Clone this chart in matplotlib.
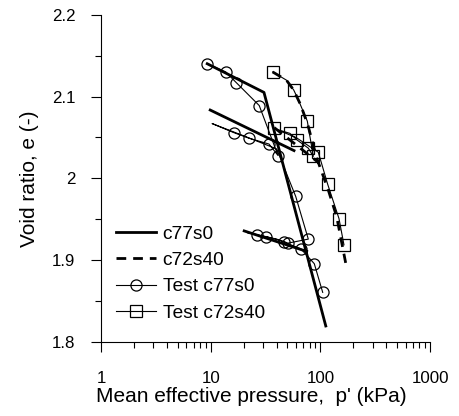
import numpy as np
import matplotlib
matplotlib.use("Agg")
import matplotlib.pyplot as plt
from matplotlib.ticker import MultipleLocator, LogLocator, NullFormatter, FixedFormatter, FixedLocator

plt.rcParams['font.family'] = ['Liberation Sans', 'DejaVu Sans']

nan = np.nan

# model c77s0 (segments separated by nan)
m77_p = [9.3, 30.6, 112, nan, 9.9, 57.5, nan, 20.2, 75]
m77_e = [2.140, 2.105, 1.820, nan, 2.0835, 2.034, nan, 1.936, 1.911]

# model c72s40
m72_p = [36.7, 49, 57, 66, 77, 92, 118, 141, 170, nan, 38, 97]
m72_e = [2.130, 2.120, 2.108, 2.090, 2.065, 2.026, 1.986, 1.953, 1.897, nan, 2.062, 2.019]

# test c77s0
t77_p = [9.3, 13.7, 17.1, 27.7, 41.1, 34.0, 22.5, 16.2, 10.3, 20, 40,
         59.6, 77.6, 50.3, 46.9, 32.1, 26.4, 21.5, 40, 66.6, 88, 105]
t77_e = [2.140, 2.130, 2.117, 2.089, 2.028, 2.042, 2.049, 2.056, 2.067, 2.052, 2.036,
         1.978, 1.926, 1.921, 1.923, 1.929, 1.931, 1.934, 1.926, 1.914, 1.896, 1.861]
t77_mark = [0, 1, 2, 3, 4, 5, 6, 7, 11, 12, 13, 14, 15, 16, 19, 20, 21]

# test c72s40
t72_p = [36.7, 49, 57.1, 62, 76, 86.2, 77.6, 61.2, 52.8, 37.8, 60, 95.7, 116.5, 147.8, 164]
t72_e = [2.130, 2.120, 2.108, 2.098, 2.070, 2.027, 2.037, 2.047, 2.055, 2.061, 2.050,
         2.032, 1.993, 1.951, 1.919]
t72_mark = [0, 2, 4, 5, 6, 7, 8, 9, 11, 12, 13, 14]

fig = plt.figure(figsize=(4.59, 4.16), dpi=100)
ax = fig.add_axes([0.22, 0.177, 0.717, 0.788])

ax.plot(m77_p, m77_e, '-', color='black', lw=2, label='c77s0')
ax.plot(m72_p, m72_e, '--', color='black', lw=2, dashes=(3.5, 2.5), label='c72s40')
ax.plot(t77_p, t77_e, '-o', color='black', lw=0.8, ms=8, mfc='none', mew=0.9,
        markevery=t77_mark, label='Test c77s0')
ax.plot(t72_p, t72_e, '-s', color='black', lw=0.8, ms=8, mfc='none', mew=0.9,
        markevery=t72_mark, label='Test c72s40')

ax.set_xscale('log')
ax.set_xlim(1, 1000)
ax.set_ylim(1.8, 2.2)
ax.xaxis.set_major_locator(FixedLocator([1, 10, 100, 1000]))
ax.xaxis.set_major_formatter(FixedFormatter(['1', '10', '100', '1000']))
ax.xaxis.set_minor_locator(LogLocator(base=10, subs=np.arange(2, 10)))
ax.xaxis.set_minor_formatter(NullFormatter())
ax.yaxis.set_minor_locator(MultipleLocator(0.05))
ax.set_yticks([1.8, 1.9, 2.0, 2.1, 2.2])
ax.set_yticklabels(['1.8', '1.9', '2', '2.1', '2.2'])

for s in ['top', 'right']:
    ax.spines[s].set_visible(False)
for s in ['left', 'bottom']:
    ax.spines[s].set_linewidth(0.8)
ax.tick_params(which='major', direction='out', length=7.5, width=0.8, labelsize=12.2)
ax.tick_params(axis='y', which='major', pad=11)
ax.tick_params(axis='x', which='major', pad=13)
ax.tick_params(which='minor', direction='out', length=4, width=0.8)

ax.set_xlabel("Mean effective pressure,  p' (kPa)", fontsize=15, labelpad=0)
ax.xaxis.set_label_coords(0.458, -0.135)
ax.set_ylabel("Void ratio, e (-)", fontsize=15, labelpad=9)

ax.legend(loc='upper left', bbox_to_anchor=(0.023, 0.38), frameon=False, fontsize=13.8,
          handlelength=2.1, handletextpad=0.32, labelspacing=0.46, borderaxespad=0)

fig.savefig('out.png', dpi=100)
